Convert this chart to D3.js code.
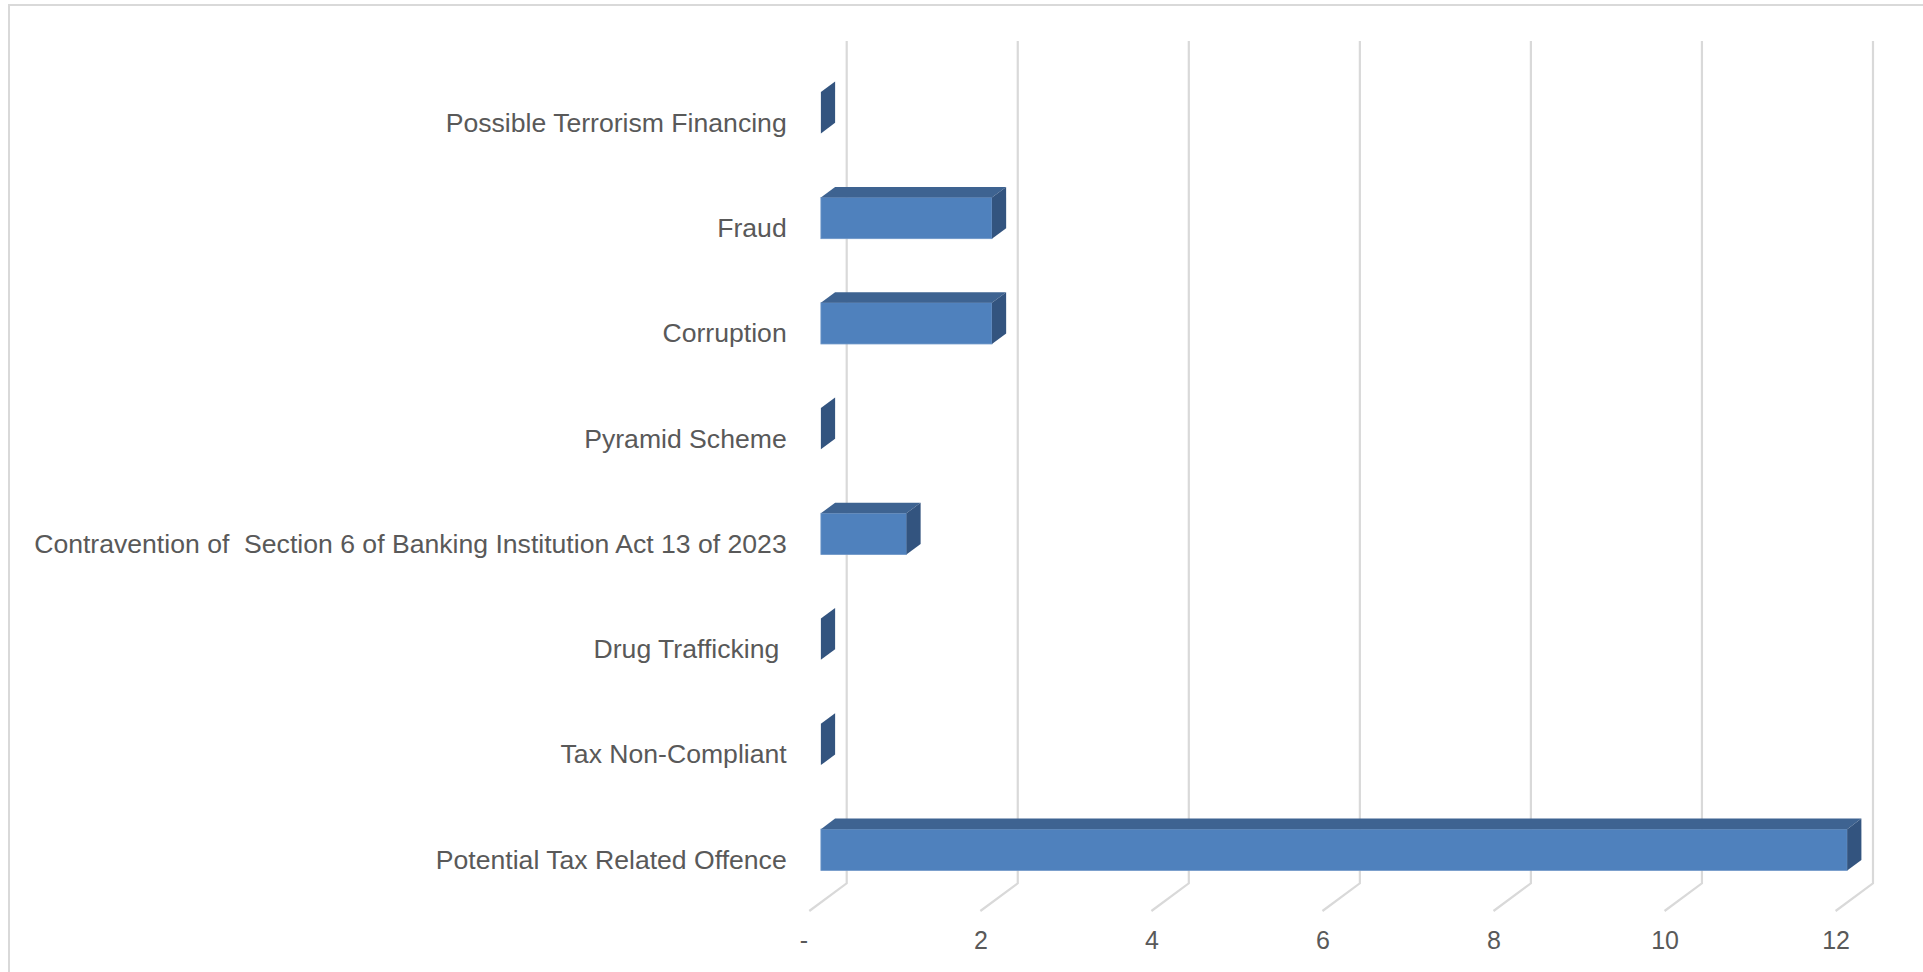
<!DOCTYPE html>
<html>
<head>
<meta charset="utf-8">
<script src="https://cdn.jsdelivr.net/npm/d3@7"></script>
<style>
  html, body { margin: 0; padding: 0; background: #fff; overflow: hidden; }
  svg text { font-family: "Liberation Sans", Arial, sans-serif; fill: #595959; white-space: pre; }
</style>
</head>
<body>
<svg id="chart" width="1923" height="972"></svg>
<script>
// ---- data ----
const categories = [
  "Possible Terrorism Financing",
  "Fraud",
  "Corruption",
  "Pyramid Scheme",
  "Contravention of  Section 6 of Banking Institution Act 13 of 2023",
  "Drug Trafficking ",
  "Tax Non-Compliant",
  "Potential Tax Related Offence"
];
const values = [0, 2, 2, 0, 1, 0, 0, 12];
const tickValues = [0, 2, 4, 6, 8, 10, 12];
const tickLabels = ["-", "2", "4", "6", "8", "10", "12"];

// ---- layout ----
const svg = d3.select("#chart");
const wall = { left: 846.7, right: 1873, top: 41, bottom: 883.3 };
const depth = { dx: -37.4, dy: 27.7 };       // floor depth vector (back -> front)
const barFront = 0.69, barBack = 0.31;       // bar depth fraction
const barHeightFrac = 0.392;

const x = d3.scaleLinear().domain([0, 12]).range([wall.left, wall.right]);
const y = d3.scaleBand().domain(categories).range([wall.top, wall.bottom]);

// outer border
svg.append("rect")
  .attr("x", 9).attr("y", 5).attr("width", 1930).attr("height", 980)
  .attr("fill", "none").attr("stroke", "#D9D9D9").attr("stroke-width", 2);

// gridlines on back wall + floor slant
const grid = svg.append("g").attr("fill", "none").attr("stroke", "#D9D9D9").attr("stroke-width", 2.2);
tickValues.forEach(v => {
  const gx = x(v);
  grid.append("path").attr("d",
    `M${gx},${wall.top} L${gx},${wall.bottom} L${gx + depth.dx},${wall.bottom + depth.dy}`);
});

// bars
const colFront = "#4F81BD", colTop = "#3E6391", colSide = "#33547F";
const bh = y.bandwidth() * barHeightFrac;
const bars = svg.append("g");
categories.forEach((c, i) => {
  const v = values[i];
  const cy = y(c) + y.bandwidth() / 2;
  const fx = depth.dx * barFront, fy = depth.dy * barFront;
  const bx = depth.dx * barBack, by = depth.dy * barBack;
  const x0 = x(0), x1 = x(v);
  const top = cy - bh / 2, bot = cy + bh / 2;
  const F = (xx, yy) => [xx + fx, yy + fy];
  const B = (xx, yy) => [xx + bx, yy + by];
  const g = bars.append("g");
  if (v > 0) {
    // front face
    const p0 = F(x0, top), p1 = F(x1, bot);
    g.append("rect")
      .attr("x", p0[0]).attr("y", p0[1])
      .attr("width", p1[0] - p0[0]).attr("height", p1[1] - p0[1])
      .attr("fill", colFront).attr("stroke", "#6E96C8").attr("stroke-width", 0.8);
    // top face
    g.append("polygon")
      .attr("points", [F(x0, top), F(x1, top), B(x1, top), B(x0, top)].map(p => p.join(",")).join(" "))
      .attr("fill", colTop);
  }
  // side face
  g.append("polygon")
    .attr("points", [F(x1, top), B(x1, top), B(x1, bot), F(x1, bot)].map(p => p.join(",")).join(" "))
    .attr("fill", colSide);
});

// category labels
const labels = svg.append("g");
categories.forEach(c => {
  labels.append("text")
    .attr("x", wall.left + depth.dx - 22.6)
    .attr("y", y(c) + y.bandwidth() / 2 + depth.dy + 10.4)
    .attr("text-anchor", "end")
    .attr("font-size", 26.6)
    .text(c);
});

// x axis tick labels
const axis = d3.axisBottom(x)
  .tickValues(tickValues)
  .tickSize(0)
  .tickFormat((d, i) => tickLabels[i]);
const ax = svg.append("g")
  .attr("transform", `translate(${depth.dx},${wall.bottom + depth.dy})`)
  .call(axis);
ax.select(".domain").remove();
ax.selectAll("text")
  .attr("font-size", 25)
  .attr("font-family", null)
  .attr("fill", null)
  .attr("dy", null)
  .attr("y", 37.5)
  .attr("dx", (d) => d === 0 ? -6 : 0);
ax.attr("font-family", null).attr("font-size", null);
</script>
</body>
</html>
